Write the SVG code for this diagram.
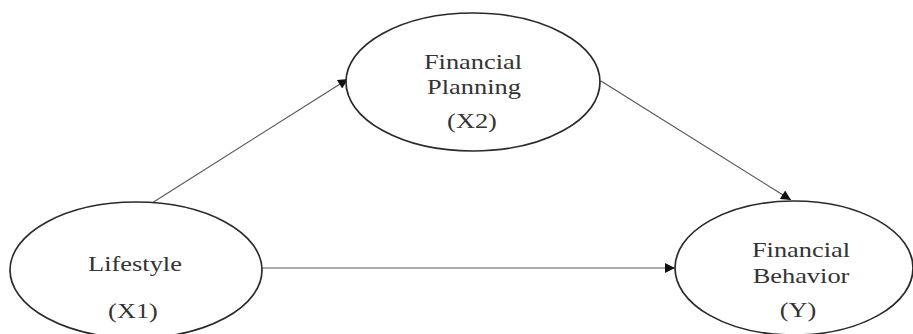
<svg xmlns="http://www.w3.org/2000/svg" width="913" height="334" viewBox="0 0 913 334">
<style>
.node ellipse{fill:#fff;stroke:#2a2a2a;stroke-width:1.7}
.node text{font-family:"Liberation Serif","Times New Roman",serif;font-size:22px;fill:#333;text-anchor:middle}
.edge{stroke:#555;stroke-width:1.1;fill:none;marker-end:url(#ah)}
</style>
<defs>
<marker id="ah" viewBox="0 0 10 10" refX="10" refY="5" markerWidth="12" markerHeight="10" markerUnits="userSpaceOnUse" orient="auto">
<path d="M0,0 L10,5 L0,10 z" fill="#111"/>
</marker>
</defs>
<rect width="913" height="334" fill="#fff"/>
<g id="connectors">
<line class="edge" x1="152" y1="203" x2="348" y2="79"/>
<line class="edge" x1="601" y1="81" x2="791" y2="200"/>
<line class="edge" x1="262" y1="268" x2="675" y2="268"/>
</g>
<g id="planning" class="node">
<ellipse cx="473" cy="82" rx="127" ry="69"/>
<text transform="translate(473,69) scale(1.2,1)">Financial</text>
<text transform="translate(474,94) scale(1.2,1)">Planning</text>
<text transform="translate(472,128) scale(1.2,1)">(X2)</text>
</g>
<g id="lifestyle" class="node">
<ellipse cx="136" cy="270" rx="126" ry="68"/>
<text transform="translate(135,271) scale(1.2,1)">Lifestyle</text>
<text transform="translate(133,318) scale(1.2,1)">(X1)</text>
</g>
<g id="behavior" class="node">
<ellipse cx="794" cy="268" rx="119" ry="67"/>
<text transform="translate(801,257) scale(1.2,1)">Financial</text>
<text transform="translate(801,283) scale(1.2,1)">Behavior</text>
<text transform="translate(798,317) scale(1.2,1)">(Y)</text>
</g>
</svg>
